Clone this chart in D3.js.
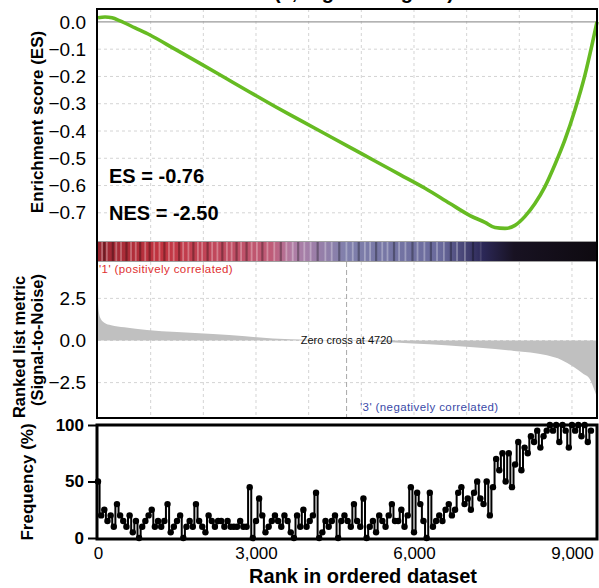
<!DOCTYPE html>
<html><head><meta charset="utf-8">
<script src="https://cdn.jsdelivr.net/npm/d3@7"></script>
<style>body{margin:0;background:#fff}svg{font-family:Arial,"Liberation Sans",sans-serif}</style>
</head><body><svg id="c" width="599" height="588"></svg>
<script>
// ---------- data ----------
const totalRank = 9475;
const esRank  = [0,133,266,418,703,987,1462,1937,2411,2886,3361,3835,4310,4785,5259,5734,6209,6683,7063,7348,7538,7728,7918,8108,8297,8487,8677,8867,9057,9247,9380,9475];
const esValue = [0.015,0.018,0.015,0.004,-0.022,-0.048,-0.1,-0.152,-0.205,-0.258,-0.31,-0.36,-0.41,-0.46,-0.51,-0.56,-0.61,-0.666,-0.71,-0.735,-0.754,-0.757,-0.746,-0.713,-0.666,-0.604,-0.523,-0.432,-0.322,-0.194,-0.084,0.0];
const metricRank  = [0,15,50,120,250,500,930,1500,2184,2800,3320,4000,4720,5300,5980,6600,7253,7900,8525,8800,9020,9200,9340,9420,9475];
const metricValue = [2.3,1.7,1.3,1.05,0.9,0.78,0.62,0.5,0.39,0.25,0.12,0.05,0,-0.08,-0.18,-0.28,-0.43,-0.62,-0.88,-1.15,-1.55,-1.95,-2.3,-2.9,-3.4];
const zeroCross = 4720;
const freqStep = 60;
const freqValues = [
 50,20,25,15,20,10,30,20,15,10,20,5,15,0,10,15,20,25,10,15,
 10,15,30,5,10,15,20,0,10,15,10,30,15,10,5,20,15,10,15,
 15,10,15,10,10,10,15,10,10,45,0,15,35,20,5,10,15,20,
 15,10,20,15,5,0,20,10,25,10,15,20,40,0,5,15,10,15,20,0,15,
 20,15,10,30,15,10,35,0,10,15,5,20,15,10,20,30,15,
 15,25,10,20,45,5,40,30,15,0,40,10,15,
 20,15,25,30,20,25,40,
 45,30,35,25,40,50,
 35,30,50,20,45,
 70,60,75,50,75,45,
 65,85,60,80,75,90,
 85,95,80,90,95,100,
 95,100,85,100,95,80,100,95,100,90,100,85,95
];
const barcodeStopRank  = [0,1200,3300,3700,4700,6500,7300,7900,9475];
const barcodeStopColor = ["#9a2632","#c23440","#bf5c78","#b07ea6","#8080ac","#6a6a9c","#2c2858","#181222","#0e0a10"];
const lightStripeRanks = [60,150,330,420,610,700,880,1050,1150,1330,1420,1600,1700,1880,1960,2150,2250,2430,2520,2700,2900,3000,3200,3330,3560,3680,3900,4020,4300,4420,4700,4820,5050,5150,5380,5480,5700,5820,6050,6180,6420,6550,6800,6950,7250];
const darkStripeRanks  = [100,260,520,780,960,1240,1520,1790,2060,2340,2610,2800,3100,3450,3780,4150,4560,4930,5260,5600,5950,6300,6680,7100];
const esTicks = [0,-0.1,-0.2,-0.3,-0.4,-0.5,-0.6,-0.7];
const metricTicks = [2.5,0,-2.5];
const freqTicks = [0,50,100];
const rankTicks = [0,3000,6000,9000];
const gridRanks = [1000,2000,3000,4000,5000,6000,7000,8000,9000];

// ---------- scales ----------
const svg = d3.select("#c");
const x = d3.scaleLinear().domain([0,totalRank]).range([98,597]);
const yES = d3.scaleLinear().domain([0.051,-0.785]).range([8,236]);
const yM = d3.scaleLinear().domain([4.6,-4.6]).range([263,418]);
const yF = d3.scaleLinear().domain([0,100]).range([538,425]);

// partial title (clipped at top, as in the reference)
svg.append("text").attr("x",364).attr("y",-1).attr("text-anchor","middle")
  .attr("font-size",20).attr("font-weight","bold").text("(1, Signature gene)");

// ---------- grids ----------
const grid = svg.append("g").attr("stroke","#d4d4d4").attr("stroke-dasharray","3,3").attr("stroke-width",1);
gridRanks.forEach(r=>{
  grid.append("line").attr("x1",x(r)).attr("x2",x(r)).attr("y1",9).attr("y2",241);
  grid.append("line").attr("x1",x(r)).attr("x2",x(r)).attr("y1",262).attr("y2",417);
});
esTicks.slice(1).forEach(v=>grid.append("line").attr("x1",98).attr("x2",597).attr("y1",yES(v)).attr("y2",yES(v)));
metricTicks.forEach(v=>grid.append("line").attr("x1",98).attr("x2",597).attr("y1",yM(v)).attr("y2",yM(v)));
svg.append("line").attr("x1",98).attr("x2",597).attr("y1",yES(0)).attr("y2",yES(0)).attr("stroke","#9a9a9a").attr("stroke-width",1.2);

// ---------- ES curve ----------
svg.append("path").datum(esRank.map((r,i)=>[r,esValue[i]]))
  .attr("fill","none").attr("stroke","#66bb22").attr("stroke-width",3.6)
  .attr("d",d3.line().x(d=>x(d[0])).y(d=>yES(d[1])).curve(d3.curveMonotoneX));

svg.append("text").attr("x",109).attr("y",183).attr("font-size",20).attr("font-weight","bold").text("ES = -0.76");
svg.append("text").attr("x",109).attr("y",220).attr("font-size",20).attr("font-weight","bold").text("NES = -2.50");

// ---------- barcode ----------
const defs = svg.append("defs");
const grad = defs.append("linearGradient").attr("id","bc").attr("gradientUnits","userSpaceOnUse")
  .attr("x1",x(0)).attr("x2",x(totalRank)).attr("y1",0).attr("y2",0);
barcodeStopRank.forEach((r,i)=>grad.append("stop").attr("offset",r/totalRank).attr("stop-color",barcodeStopColor[i]));
svg.append("rect").attr("x",x(0)).attr("y",242).attr("width",x(totalRank)-x(0)).attr("height",19).attr("fill","url(#bc)");
svg.append("g").selectAll("rect").data(lightStripeRanks).join("rect")
  .attr("x",d=>x(d)).attr("y",242).attr("width",1.8).attr("height",19)
  .attr("fill","#ffffff").attr("opacity",d=>d<7000?0.3:0.12);
svg.append("g").selectAll("rect").data(darkStripeRanks).join("rect")
  .attr("x",d=>x(d)).attr("y",242).attr("width",2.2).attr("height",19)
  .attr("fill","#000").attr("opacity",0.3);
svg.append("line").attr("x1",98).attr("x2",597).attr("y1",241.5).attr("y2",241.5).attr("stroke","#a0a0a0");
svg.append("line").attr("x1",98).attr("x2",597).attr("y1",261.5).attr("y2",261.5).attr("stroke","#a0a0a0");

// ---------- ranked metric ----------
svg.append("path").datum(metricRank.map((r,i)=>[r,metricValue[i]]))
  .attr("fill","#c0c0c0")
  .attr("d",d3.area().x(d=>x(d[0])).y0(yM(0)).y1(d=>yM(d[1])).curve(d3.curveMonotoneX));
svg.append("line").attr("x1",x(zeroCross)).attr("x2",x(zeroCross)).attr("y1",262).attr("y2",417)
  .attr("stroke","#a8a8a8").attr("stroke-dasharray","5,3");
svg.append("text").attr("x",x(zeroCross)).attr("y",344).attr("text-anchor","middle").attr("font-size",11).attr("fill","#111").text("Zero cross at 4720");
svg.append("text").attr("x",99).attr("y",273).attr("font-size",11.5).attr("fill","#e03030").attr("letter-spacing",0.4).text("'1' (positively correlated)");
svg.append("text").attr("x",360).attr("y",411).attr("font-size",11.5).attr("fill","#3a4aa8").attr("letter-spacing",0.4).text("'3' (negatively correlated)");

// top frame
svg.append("rect").attr("x",97).attr("y",9).attr("width",500).attr("height",409).attr("fill","none").attr("stroke","#000").attr("stroke-width",2);

// ---------- axes labels top ----------
const esAx = svg.append("g").attr("transform","translate(97,0)")
  .call(d3.axisLeft(yES).tickValues(esTicks).tickSize(0).tickPadding(11).tickFormat(d3.format(".1f")));
esAx.select(".domain").remove();
esAx.selectAll("text").attr("font-size",19).attr("font-family","Arial,'Liberation Sans',sans-serif").attr("fill","#000");
const mAx = svg.append("g").attr("transform","translate(97,0)")
  .call(d3.axisLeft(yM).tickValues(metricTicks).tickSize(0).tickPadding(11).tickFormat(d3.format(".1f")));
mAx.select(".domain").remove();
mAx.selectAll("text").attr("font-size",19).attr("font-family","Arial,'Liberation Sans',sans-serif").attr("fill","#000");

svg.append("text").attr("transform","translate(43,122) rotate(-90)").attr("text-anchor","middle")
  .attr("font-size",17).attr("font-weight","bold").text("Enrichment score (ES)");
svg.append("text").attr("transform","translate(25,347) rotate(-90)").attr("text-anchor","middle")
  .attr("font-size",16.5).attr("font-weight","bold").text("Ranked list metric");
svg.append("text").attr("transform","translate(43,340) rotate(-90)").attr("text-anchor","middle")
  .attr("font-size",16.5).attr("font-weight","bold").text("(Signal-to-Noise)");

// ---------- frequency panel ----------
const fg = svg.append("g");
const fpts = freqValues.map((v,i)=>[i*freqStep,v]);
fg.append("path").datum(fpts).attr("fill","none").attr("stroke","#000").attr("stroke-width",2)
  .attr("d",d3.line().x(d=>x(d[0])).y(d=>yF(d[1])).curve(d3.curveStep));
fg.selectAll("circle").data(fpts).join("circle").attr("cx",d=>x(d[0])).attr("cy",d=>yF(d[1])).attr("r",3.2).attr("fill","#000");
svg.append("rect").attr("x",97).attr("y",425).attr("width",500).attr("height",114).attr("fill","none").attr("stroke","#000").attr("stroke-width",3);

const fAx = svg.append("g").attr("transform","translate(96,0)")
  .call(d3.axisLeft(yF).tickValues(freqTicks).tickSize(8).tickPadding(4));
fAx.select(".domain").remove();
fAx.selectAll("line").attr("stroke","#000").attr("stroke-width",2);
fAx.selectAll("text").attr("font-size",17).attr("font-weight","bold").attr("font-family","Arial,'Liberation Sans',sans-serif").attr("fill","#000");

const xAx = svg.append("g").attr("transform","translate(0,541)")
  .call(d3.axisBottom(x).tickValues(rankTicks).tickSize(0).tickPadding(6).tickFormat(d3.format(",")));
xAx.select(".domain").remove();
xAx.selectAll("text").attr("font-size",17).attr("font-family","Arial,'Liberation Sans',sans-serif").attr("fill","#000");

svg.append("text").attr("transform","translate(33,482) rotate(-90)").attr("text-anchor","middle")
  .attr("font-size",17).attr("font-weight","bold").text("Frequency (%)");
svg.append("text").attr("x",363).attr("y",583).attr("text-anchor","middle")
  .attr("font-size",20).attr("font-weight","bold").text("Rank in ordered dataset");
</script></body></html>
